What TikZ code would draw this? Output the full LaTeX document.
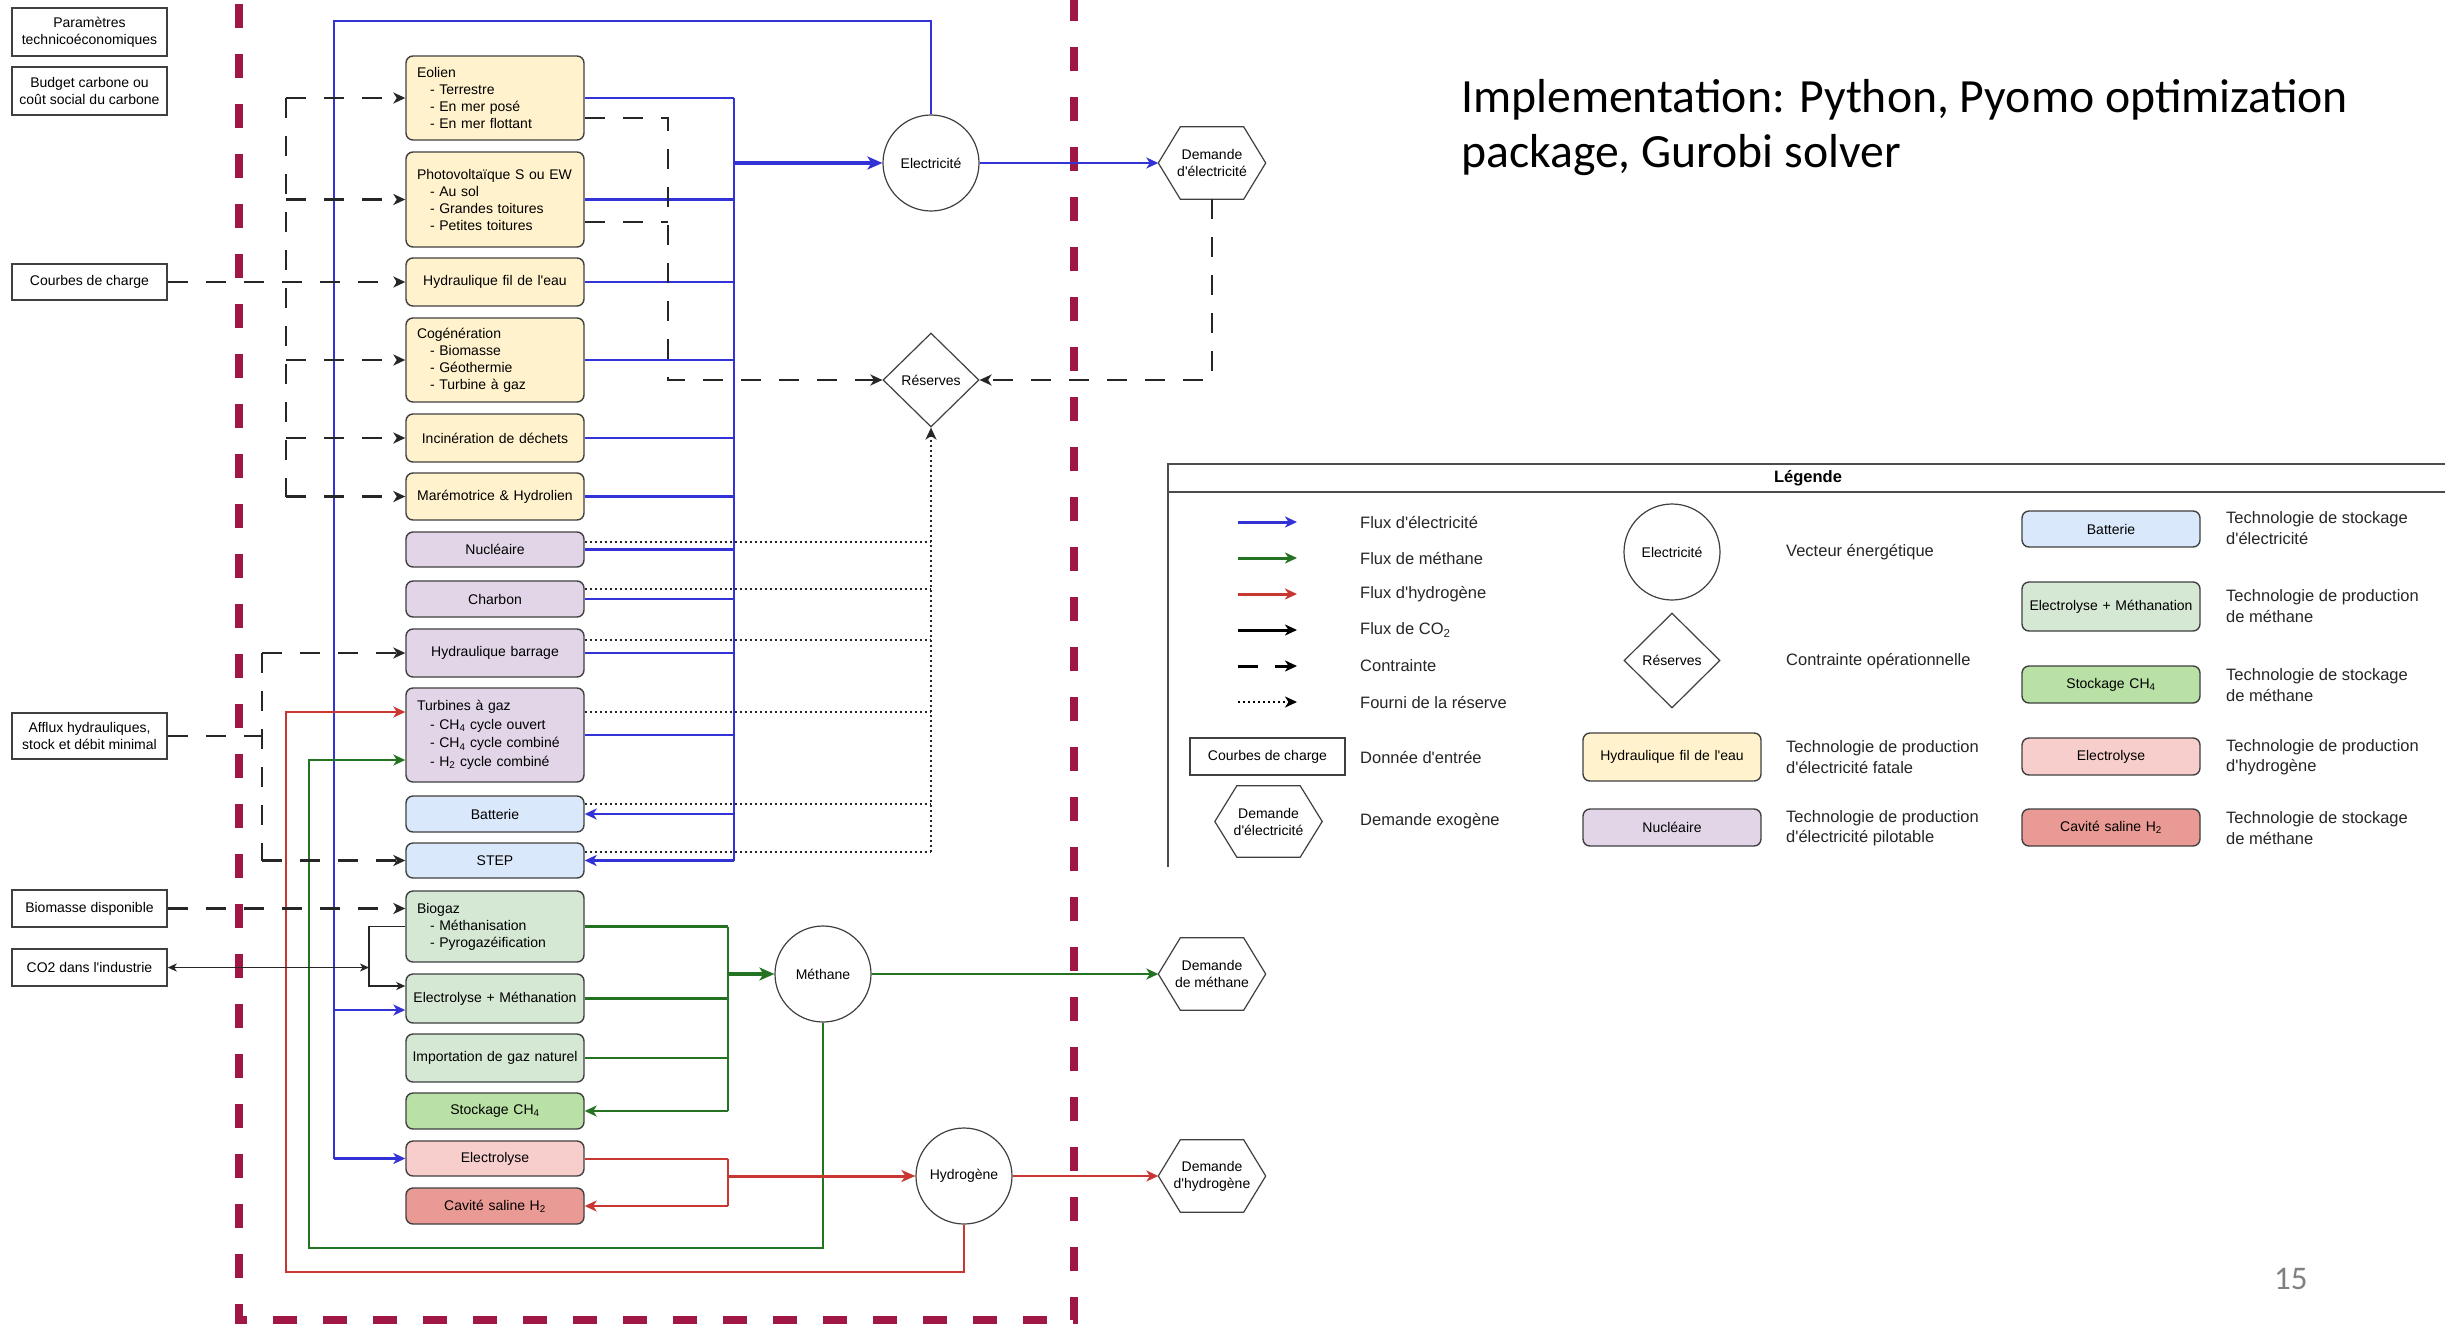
\documentclass[tikz,border=0pt]{standalone}
\usepackage{fontspec}
\setmainfont{Liberation Sans}[Ligatures=TeXOff]
\newfontfamily\calib{Carlito}
\usetikzlibrary{shapes.geometric,arrows.meta,calc}

\definecolor{cblue}{RGB}{50,50,215}
\definecolor{cgreen}{RGB}{35,115,35}
\definecolor{cred}{RGB}{200,55,50}
\definecolor{crim}{RGB}{160,22,68}
\definecolor{fyel}{HTML}{FFF2CC}
\definecolor{fpur}{HTML}{E1D5E7}
\definecolor{fblu}{HTML}{DAE8FC}
\definecolor{fgrn}{HTML}{D5E8D4}
\definecolor{fgrnb}{HTML}{B9E0A5}
\definecolor{fpnk}{HTML}{F8CECC}
\definecolor{fred}{HTML}{EA9A94}
\definecolor{bord}{HTML}{404040}

\newcommand\dfont{\fontsize{14}{17}\selectfont}
\newcommand\lfont{\fontsize{16.5}{20.5}\selectfont}
\newcommand\ind{\hspace*{13pt}}
\newcommand\mkhex[1]{\draw[hexline] (#1.west) -- ([xshift=22pt]#1.north west) -- ([xshift=-22pt]#1.north east) -- (#1.east) -- ([xshift=-22pt]#1.south east) -- ([xshift=22pt]#1.south west) -- cycle;}

\begin{document}
\begin{tikzpicture}[x=1pt,y=-1pt,
  >={Stealth[length=12pt,width=11pt,inset=3.5pt]},
  tech/.style={rectangle, rounded corners=7pt, draw=bord, line width=1.4pt, minimum width=178pt, inner xsep=4pt, inner ysep=0pt, text width=170pt, align=center, font=\dfont},
  techl/.style={tech, inner xsep=11pt, text width=156pt, align=left},
  inp/.style={rectangle, draw=bord, line width=1.5pt, minimum width=155pt, inner sep=2pt, align=center, font=\dfont},
  circ/.style={circle, draw=bord, line width=1.2pt, minimum size=96pt, inner sep=0pt, font=\dfont},
  diam/.style={diamond, draw=bord, line width=1.2pt, minimum width=96pt, minimum height=94pt, inner sep=0pt, font=\dfont},
  hexn/.style={rectangle, minimum width=107pt, minimum height=72pt, inner sep=0pt, align=center, font=\dfont},
  hexline/.style={draw=bord, line width=1.2pt},
  bl/.style={draw=cblue, line width=2.2pt},
  bla/.style={bl, ->},
  blt/.style={draw=cblue, line width=4pt, -{Stealth[length=15pt,width=13pt,inset=4pt]}},
  gr/.style={draw=cgreen, line width=2.2pt},
  gra/.style={gr, ->},
  grt/.style={draw=cgreen, line width=4pt, -{Stealth[length=15pt,width=13pt,inset=4pt]}},
  rd/.style={draw=cred, line width=2pt},
  rda/.style={rd, ->},
  rdt/.style={draw=cred, line width=3pt, -{Stealth[length=14pt,width=12pt,inset=4pt]}},
  dsh/.style={draw=black!85, line width=2.3pt, dash pattern=on 20pt off 18pt},
  dsha/.style={dsh, ->},
  dotl/.style={draw=black!85, line width=1.8pt, dash pattern=on 1.8pt off 3.2pt},
  dota/.style={dotl, ->},
  co2l/.style={draw=black!85, line width=1.3pt, -{Stealth[length=9pt,width=8pt,inset=2.5pt]}},
  co2b/.style={draw=black!85, line width=1.3pt, {Stealth[length=9pt,width=8pt,inset=2.5pt]}-{Stealth[length=9pt,width=8pt,inset=2.5pt]}},
  bnd/.style={draw=crim, line width=8pt, dash pattern=on 24pt off 26pt},
  lab/.style={anchor=west, inner sep=0pt, align=left, font=\lfont, text=black!85},
  legline/.style={draw=black!70, line width=1.5pt}
]
\useasboundingbox (0,0) rectangle (2445,1323);
\fill[white] (0,0) rectangle (2445,1323);

% boundary
\draw[bnd] (239,4) -- (239,1320) -- (1074,1320) -- (1074,0);

% input data
\node[inp, minimum height=48pt] (par) at (89.5,32) {Paramètres\\technicoéconomiques};
\node[inp, minimum height=48pt] (bud) at (89.5,91) {Budget carbone ou\\coût social du carbone};
\node[inp, minimum height=36pt] (cdc) at (89.5,282) {Courbes de charge};
\node[inp, minimum height=46pt] (aff) at (89.5,736) {Afflux hydrauliques,\\stock et débit minimal};
\node[inp, minimum height=37pt] (bio) at (89.5,908.5) {Biomasse disponible};
\node[inp, minimum height=37pt] (co2) at (89.5,967.5) {CO2 dans l'industrie};

% technologies
\node[techl, fill=fyel, minimum height=84pt] (eol) at (495,98) {Eolien\\\ind- Terrestre\\\ind- En mer posé\\\ind- En mer flottant};
\node[techl, fill=fyel, minimum height=95pt] (pv) at (495,199.5) {Photovoltaïque S ou EW\\\ind- Au sol\\\ind- Grandes toitures\\\ind- Petites toitures};
\node[tech, fill=fyel, minimum height=48pt] (hfe) at (495,282) {Hydraulique fil de l'eau};
\node[techl, fill=fyel, minimum height=84pt] (cog) at (495,360) {Cogénération\\\ind- Biomasse\\\ind- Géothermie\\\ind- Turbine à gaz};
\node[tech, fill=fyel, minimum height=48pt] (inc) at (495,438) {Incinération de déchets};
\node[tech, fill=fyel, minimum height=47pt] (mar) at (495,496.5) {Marémotrice \& Hydrolien};
\node[tech, fill=fpur, minimum height=35pt] (nuc) at (495,549.5) {Nucléaire};
\node[tech, fill=fpur, minimum height=36pt] (cha) at (495,599) {Charbon};
\node[tech, fill=fpur, minimum height=48pt] (hb) at (495,653) {Hydraulique barrage};
\node[techl, fill=fpur, minimum height=94pt] (tg) at (495,735) {Turbines à gaz\\[1.5pt]\ind- CH\textsubscript{4} cycle ouvert\\[1.5pt]\ind- CH\textsubscript{4} cycle combiné\\[1.5pt]\ind- H\textsubscript{2} cycle combiné};
\node[tech, fill=fblu, minimum height=36pt] (bat) at (495,814) {Batterie};
\node[tech, fill=fblu, minimum height=35pt] (stp) at (495,860.5) {STEP};
\node[techl, fill=fgrn, minimum height=71pt] (bg) at (495,926.5) {Biogaz\\\ind- Méthanisation\\\ind- Pyrogazéification};
\node[tech, fill=fgrn, minimum height=49pt] (em) at (495,998.5) {Electrolyse + Méthanation};
\node[tech, fill=fgrn, minimum height=48pt] (imp) at (495,1058) {Importation de gaz naturel};
\node[tech, fill=fgrnb, minimum height=36pt] (stk) at (495,1111) {Stockage CH\textsubscript{4}};
\node[tech, fill=fpnk, minimum height=35pt] (elz) at (495,1158.5) {Electrolyse};
\node[tech, fill=fred, minimum height=36pt] (cav) at (495,1206) {Cavité saline H\textsubscript{2}};

% vectors, constraint, demands
\node[circ] (elec) at (931,163) {Electricité};
\node[diam] (res) at (931,380) {Réserves};
\node[circ] (meth) at (823,974) {Méthane};
\node[circ] (h2) at (964,1176) {Hydrogène};
\node[hexn] (dde) at (1212,163) {Demande\\d'électricité};
\node[hexn] (dme) at (1212,974) {Demande\\de méthane};
\node[hexn] (dh2) at (1212,1176) {Demande\\d'hydrogène};
\mkhex{dde}
\mkhex{dme}
\mkhex{dh2}

% electricity
\coordinate (eb) at (734,98);
\draw[bl] (eb) -- (eb |- stp.east);
\foreach \n in {eol,pv,hfe,cog,inc,mar,nuc,cha,hb,tg} \draw[bl] (\n.east) -- (\n.east -| eb);
\foreach \n in {bat,stp} \draw[bla] (\n.east -| eb) -- (\n.east);
\draw[blt] (elec.west -| eb) -- (elec.west);
\draw[bla] (elec.east) -- (dde.west);
\coordinate (etop) at (334,21);
\draw[bl] (elec.north) |- (etop) -- (etop |- elz.west);
\draw[bla] ([yshift=-11.5pt]em.west -| etop) -- ([yshift=-11.5pt]em.west);
\draw[bla] (elz.west -| etop) -- (elz.west);

% methane
\coordinate (gb) at (728,927);
\foreach \n in {bg,em,imp} \draw[gr] (\n.east) -- (\n.east -| gb);
\draw[gra] (stk.east -| gb) -- (stk.east);
\draw[gr] (gb |- bg.east) -- (gb |- stk.east);
\draw[grt] (gb |- meth.west) -- (meth.west);
\draw[gra] (meth.east) -- (dme.west);
\coordinate (gl) at (309,1248);
\draw[gra] (meth.south) |- (gl) -- ([yshift=-25pt]tg.west -| gl) -- ([yshift=-25pt]tg.west);

% hydrogen
\coordinate (rb) at (728,1159);
\draw[rd] (elz.east) -- (elz.east -| rb);
\draw[rda] (cav.east -| rb) -- (cav.east);
\draw[rd] (rb |- elz.east) -- (rb |- cav.east);
\draw[rdt] (rb |- h2.west) -- (h2.west);
\draw[rda] (h2.east) -- (dh2.west);
\coordinate (rl) at (286,1272);
\draw[rda] (h2.south) |- (rl) -- ([yshift=23pt]tg.west -| rl) -- ([yshift=23pt]tg.west);

% constraints (left)
\coordinate (dl) at (286,98);
\draw[dsh] (dl |- eol.west) -- (dl |- mar.west);
\foreach \n in {eol,pv,cog,inc,mar} \draw[dsha] (\n.west -| dl) -- (\n.west);
\draw[dsha] (cdc.east) -- (hfe.west);
\coordinate (da) at (262,736);
\draw[dsh] (aff.east) -- (aff.east -| da);
\draw[dsh] (da |- hb.west) -- (da |- stp.west);
\draw[dsha] (hb.west -| da) -- (hb.west);
\draw[dsha] (stp.west -| da) -- (stp.west);
\draw[dsha] (bio.east) -- (bio.east -| bg.west);

% CO2
\coordinate (cx) at (369,967.5);
\draw[co2l] (bg.west) -| ([yshift=12.5pt]em.west -| cx) -- ([yshift=12.5pt]em.west);
\draw[co2b] (co2.east) -- (co2.east -| cx);

% constraints (right)
\coordinate (dr) at (668,380);
\draw[dsha] ([yshift=-20pt]eol.east) -| (dr |- res.west) -- (res.west);
\draw[dsh] ([yshift=-22.5pt]pv.east) -- ([yshift=-22.5pt]pv.east -| dr);
\draw[dsha] (dde.south) |- (res.east);

% reserve supply
\foreach \n/\s in {nuc/7.5,cha/10,hb/13,tg/23,bat/10,stp/8.5} \draw[dotl] ([yshift=\s pt]\n.east) -- ([yshift=\s pt]\n.east -| res.south);
\draw[dota] ([yshift=8.5pt]stp.east -| res.south) -- (res.south);

% title text
\node[anchor=base west, inner sep=0pt, font=\calib\fontsize{47.7}{56}\selectfont] (impa) at (1461,112) {Implementation: Python, Pyomo optimization};
\node[anchor=base west, inner sep=0pt, font=\calib\fontsize{47.7}{56}\selectfont] (impb) at (1461,167) {package, Gurobi solver};
\node[anchor=base west, inner sep=0pt, font=\calib\fontsize{33}{40}\selectfont, text=black!50] (pnum) at (2274,1289) {15};

% legend
\draw[legline] (1168,867) -- (1168,464) -- (2445,464);
\draw[legline] (1168,492) -- (2445,492);
\node[inner sep=0pt, font=\lfont\bfseries] (lgt) at (1808,478) {Légende};
\foreach \i/\y in {1/522,2/558,3/594,4/630,5/666,6/702} {
  \coordinate (ls\i) at (1238,\y);
  \coordinate (le\i) at (1297,\y);
}
\draw[bla, line width=3pt] (ls1) -- (le1);
\draw[gra, line width=3pt] (ls2) -- (le2);
\draw[rda, line width=3pt] (ls3) -- (le3);
\draw[draw=black, line width=3pt, ->] (ls4) -- (le4);
\draw[dsha, draw=black, line width=3pt, dash pattern=on 20pt off 17pt] (ls5) -- (le5);
\draw[dota, draw=black, line width=2pt] (ls6) -- (le6);
\node[lab] (l1) at (1360,522) {Flux d'électricité};
\node[lab] (l2) at (1360,558) {Flux de méthane};
\node[lab] (l3) at (1360,594) {Flux d'hydrogène};
\node[lab] (l4) at (1360,630) {Flux de CO\textsubscript{2}};
\node[lab] (l5) at (1360,666) {Contrainte};
\node[lab] (l6) at (1360,702) {Fourni de la réserve};
\node[inp, minimum height=37pt] (lcdc) at (1267.5,756.5) {Courbes de charge};
\node[lab] (l7) at (1360,757) {Donnée d'entrée};
\node[hexn, minimum height=71pt] (lhex) at (1268.5,821.5) {Demande\\d'électricité};
\mkhex{lhex}
\node[lab] (l8) at (1360,821) {Demande exogène};

\node[circ] (lelec) at (1672,552) {Electricité};
\node[lab] (l9) at (1786,552) {Vecteur énergétique};
\node[diam, minimum height=95pt] (lres) at (1672,660.5) {Réserves};
\node[lab] (l10) at (1786,661) {Contrainte opérationnelle};
\node[tech, fill=fyel, minimum height=48pt] (lhfe) at (1672,757) {Hydraulique fil de l'eau};
\node[lab] (l11) at (1786,757) {Technologie de production\\d'électricité fatale};
\node[tech, fill=fpur, minimum height=37pt] (lnuc) at (1672,827.5) {Nucléaire};
\node[lab] (l12) at (1786,828) {Technologie de production\\d'électricité pilotable};

\node[tech, fill=fblu, minimum height=36pt] (lbat) at (2111,529) {Batterie};
\node[lab] (l13) at (2226,528) {Technologie de stockage\\d'électricité};
\node[tech, fill=fgrn, minimum height=49pt] (lem) at (2111,606.5) {Electrolyse + Méthanation};
\node[lab] (l14) at (2226,606) {Technologie de production\\de méthane};
\node[tech, fill=fgrnb, minimum height=37pt] (lstk) at (2111,684.5) {Stockage CH\textsubscript{4}};
\node[lab] (l15) at (2226,685) {Technologie de stockage\\de méthane};
\node[tech, fill=fpnk, minimum height=37pt] (lelz) at (2111,756.5) {Electrolyse};
\node[lab] (l16) at (2226,757) {Technologie de production\\d'hydrogène};
\node[tech, fill=fred, minimum height=37pt] (lcav) at (2111,827.5) {Cavité saline H\textsubscript{2}};
\node[lab] (l17) at (2226,828) {Technologie de stockage\\de méthane};
\end{tikzpicture}
\end{document}
